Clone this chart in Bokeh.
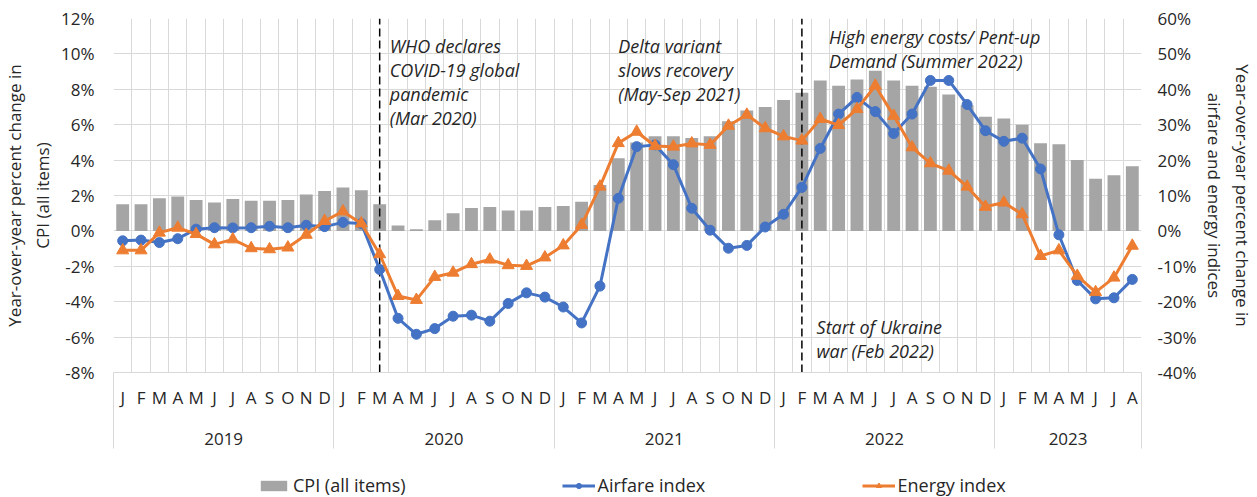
from bokeh.plotting import figure
from bokeh.layouts import column
from bokeh.models import (Range1d, LinearAxis, FixedTicker, PrintfTickFormatter,
                          Legend, LegendItem, ColumnDataSource)
from bokeh.core.properties import value
from bokeh.embed import file_html
from bokeh.resources import INLINE

# ---------------- data ----------------
years = ["2019", "2020", "2021", "2022", "2023"]
month_letters = ["J", "F", "M", "A", "M", "J", "J", "A", "S", "O", "N", "D"]

cpi = [1.5, 1.5, 1.85, 1.95, 1.75, 1.6, 1.8, 1.7, 1.7, 1.75, 2.05, 2.25,
       2.45, 2.3, 1.5, 0.3, 0.1, 0.6, 1.0, 1.3, 1.35, 1.15, 1.15, 1.35,
       1.4, 1.65, 2.6, 4.1, 5.0, 5.35, 5.35, 5.25, 5.35, 6.2, 6.8, 7.0,
       7.4, 7.8, 8.5, 8.2, 8.55, 9.05, 8.5, 8.2, 8.15, 7.7, 7.1, 6.45,
       6.35, 6.0, 4.95, 4.9, 4.0, 2.95, 3.15, 3.65]

airfare = [-2.8, -2.6, -3.3, -2.2, 0.5, 0.9, 0.85, 0.9, 1.3, 0.9, 1.6, 1.2,
           2.4, 2.1, -10.9, -24.7, -29.2, -27.6, -24.1, -23.8, -25.5, -20.5, -17.5, -18.7,
           -21.5, -26.0, -15.6, 9.2, 23.8, 24.3, 18.7, 6.4, 0.2, -4.9, -4.1, 1.1,
           4.7, 12.3, 23.3, 33.0, 37.7, 33.7, 27.5, 33.0, 42.5, 42.5, 35.7, 28.3,
           25.3, 26.2, 17.5, -1.1, -14.0, -19.2, -18.9, -13.7]

energy = [-5.5, -5.5, -0.5, 0.9, -0.9, -3.8, -2.4, -4.9, -5.2, -4.7, -1.1, 2.8,
          5.5, 2.1, -6.6, -18.4, -19.5, -13.0, -11.8, -9.4, -8.1, -9.7, -9.9, -7.5,
          -4.1, 1.7, 12.5, 24.8, 28.0, 24.0, 23.8, 24.7, 24.3, 29.7, 32.8, 29.0,
          26.7, 25.5, 31.6, 29.9, 34.4, 41.0, 32.5, 23.6, 19.1, 17.0, 12.5, 6.8,
          8.0, 4.7, -7.1, -5.5, -12.7, -17.3, -13.2, -4.2]

series_names = ["CPI (all items)", "Airfare index", "Energy index"]

# event markers (year, month number)
events = [("2020", 3), ("2022", 2)]

annotations = [
    ["WHO declares", "COVID-19 global", "pandemic", "(Mar 2020)"],
    ["Delta variant", "slows recovery", "(May-Sep 2021)"],
    ["High energy costs/ Pent-up", "Demand (Summer 2022)"],
    ["Start of Ukraine", "war (Feb 2022)"],
]
# anchors (x in month-index units, y in left-axis %)
ann_anchor = [(14.55, 10.44), (27.0, 10.44), (38.47, 10.95), (37.8, -5.45)]

# ---------------- styling ----------------
FONT = "Open Sans"
TXT = "#262626"
GRID = "#d9d9d9"
BAR = "#a5a5a5"
BLUE = "#4472c4"
ORANGE = "#ed7d31"
W, H = 1257, 497
MAIN_H = 452

n = len(cpi)
x = list(range(n))
month_labels = {i: month_letters[i % 12] for i in x}
boundaries = [i - 0.5 for i in range(0, n + 1)]
year_bounds = [-0.5] + [i - 0.5 for i in range(12, n, 12)] + [n - 0.5]
year_centers = []
for k, yname in enumerate(years):
    idx = [i for i in x if i // 12 == k]
    year_centers.append(sum(idx) / len(idx))

p = figure(width=W, height=MAIN_H,
           x_range=Range1d(-0.5, n - 0.5), y_range=Range1d(-8, 12),
           output_backend="svg", toolbar_location=None,
           min_border_left=111, min_border_right=116, min_border_top=18,
           min_border_bottom=80,
           outline_line_color=None, background_fill_color="white",
           border_fill_color="white")
p.extra_y_ranges = {"idx": Range1d(-40, 60)}

# grids
p.xgrid.ticker = FixedTicker(ticks=boundaries)
p.ygrid.ticker = FixedTicker(ticks=list(range(-8, 13, 2)))
for g in (p.xgrid[0], p.ygrid[0]):
    g.grid_line_color = GRID
    g.grid_line_width = 1

common_lbl = dict(major_label_text_font=FONT, major_label_text_font_size="17px",
                  major_label_text_color=TXT)

# month axis (year separators drawn as long minor ticks)
xa = p.xaxis[0]
xa.ticker = FixedTicker(ticks=x, minor_ticks=year_bounds)
xa.major_label_overrides = month_labels
xa.major_tick_line_color = None
xa.major_tick_in = 0
xa.major_tick_out = 0
xa.minor_tick_line_color = GRID
xa.minor_tick_in = 0
xa.minor_tick_out = 76
xa.axis_line_color = GRID
xa.major_label_standoff = 13 - 76
for k, v in common_lbl.items():
    setattr(xa, k, v)

# year axis
ya_years = LinearAxis(ticker=FixedTicker(ticks=year_centers),
                      major_label_overrides={c: yname for c, yname in zip(year_centers, years)},
                      axis_line_color=None, major_tick_line_color=None,
                      minor_tick_line_color=None, major_tick_in=0, major_tick_out=0,
                      minor_tick_in=0, minor_tick_out=0,
                      major_label_standoff=21, **common_lbl)
p.add_layout(ya_years, "below")

# left axis
la = p.yaxis[0]
la.ticker = FixedTicker(ticks=list(range(-8, 13, 2)))
la.formatter = PrintfTickFormatter(format="%d%%")
la.major_tick_line_color = None
la.minor_tick_line_color = None
la.major_tick_out = 0
la.minor_tick_out = 0
la.axis_line_color = None
la.major_label_standoff = 19
for k, v in common_lbl.items():
    setattr(la, k, v)
la.axis_label = "Year-over-year percent change in\nCPI (all items)"
la.axis_label_text_font = FONT
la.axis_label_text_font_style = "normal"
la.axis_label_text_font_size = "17px"
la.axis_label_text_color = TXT
la.axis_label_standoff = 4

# right axis
ra = LinearAxis(y_range_name="idx",
                ticker=FixedTicker(ticks=list(range(-40, 61, 10))),
                formatter=PrintfTickFormatter(format="%d%%"),
                major_tick_line_color=None, minor_tick_line_color=None,
                major_tick_out=0, minor_tick_out=0, axis_line_color=None,
                major_label_standoff=16,
                axis_label="Year-over-year percent change in\nairfare and energy indices",
                axis_label_text_font=FONT, axis_label_text_font_style="normal",
                axis_label_text_font_size="17px", axis_label_text_color=TXT,
                axis_label_standoff=4, **common_lbl)
p.add_layout(ra, "right")

# bars
src = ColumnDataSource(dict(x=x, cpi=cpi, airfare=airfare, energy=energy))
p.vbar(x="x", top="cpi", bottom=0, width=0.7, source=src,
       fill_color=BAR, line_color=None)

# event dashed lines
ev_x = [years.index(yy) * 12 + (mm - 1) for yy, mm in events]
p.segment(x0=ev_x, x1=ev_x, y0=[p.y_range.start] * len(ev_x),
          y1=[p.y_range.end] * len(ev_x), line_color="black",
          line_width=1.5, line_dash="8 4")

# lines
p.line("x", "airfare", source=src, y_range_name="idx", line_color=BLUE, line_width=3)
p.scatter("x", "airfare", source=src, y_range_name="idx", marker="circle",
          size=10, fill_color=BLUE, line_color=BLUE)
p.line("x", "energy", source=src, y_range_name="idx", line_color=ORANGE, line_width=3)
p.scatter("x", "energy", source=src, y_range_name="idx", marker="triangle",
          size=12, fill_color=ORANGE, line_color=ORANGE)

# annotations
tx, ty, tt, toff = [], [], [], []
for lines, (axx, ayy) in zip(annotations, ann_anchor):
    for k, line in enumerate(lines):
        tx.append(axx)
        ty.append(ayy)
        tt.append(line)
        toff.append(k * 24)
p.text(x=tx, y=ty, text=tt, y_offset=toff, text_font=value(FONT),
       text_font_style="italic", text_font_size="18px", text_color=TXT,
       text_align="left", text_baseline="alphabetic")

# ---------------- legend strip (separate small figure) ----------------
LEG_H = H - MAIN_H
q = figure(width=W, height=LEG_H, x_range=Range1d(0, 1), y_range=Range1d(0, 1),
           output_backend="svg", toolbar_location=None,
           x_axis_location=None, y_axis_location=None,
           min_border=0, outline_line_color=None,
           background_fill_color="white", border_fill_color="white")
q.grid.visible = False
nan = float("nan")
blank = ColumnDataSource(dict(x=[nan], y=[nan]))   # legend-only renderers, nothing plotted
lb = q.vbar(x="x", top="y", width=1, source=blank, fill_color=BAR, line_color=None)
l1 = q.line("x", "y", source=blank, line_color=BLUE, line_width=3)
m1 = q.scatter("x", "y", source=blank, marker="circle", size=10,
               fill_color=BLUE, line_color=BLUE)
l2 = q.line("x", "y", source=blank, line_color=ORANGE, line_width=3)
m2 = q.scatter("x", "y", source=blank, marker="triangle", size=12,
               fill_color=ORANGE, line_color=ORANGE)
legend = Legend(items=[LegendItem(label=series_names[0], renderers=[lb]),
                       LegendItem(label=series_names[1], renderers=[l1, m1]),
                       LegendItem(label=series_names[2], renderers=[l2, m2])],
                location=(144, 0), orientation="horizontal",
                border_line_color=None, background_fill_alpha=0,
                padding=0, margin=0, spacing=156,
                glyph_width=33, glyph_height=13, label_standoff=3,
                label_width=108, label_height=20,
                label_text_font=FONT, label_text_font_size="18px",
                label_text_color=TXT)
q.add_layout(legend)

layout = column(p, q, spacing=0)
open("out.html", "w").write(file_html(layout, INLINE))
